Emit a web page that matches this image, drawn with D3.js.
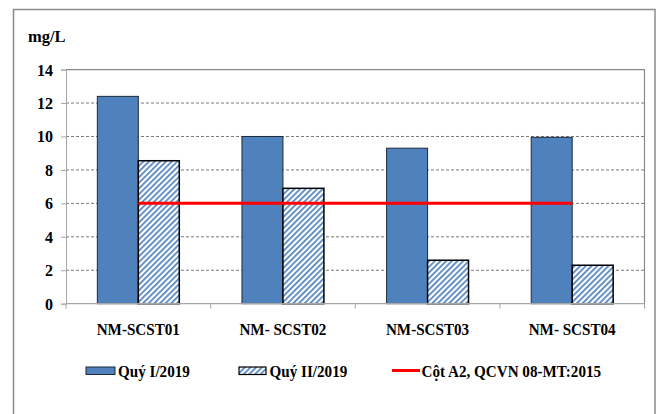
<!DOCTYPE html>
<html>
<head>
<meta charset="utf-8">
<script src="https://cdn.jsdelivr.net/npm/d3@7"></script>
<style>
  html, body { margin: 0; padding: 0; background: #fff; }
  #chart text { font-family: "Liberation Serif", "Times New Roman", Tinos, "DejaVu Serif", serif; font-weight: bold; fill: #000; }
</style>
</head>
<body>
<svg id="chart" width="659" height="414"></svg>
<script>
// Monitoring points
const categories = ["NM-SCST01", "NM- SCST02", "NM-SCST03", "NM- SCST04"];
// Series names
const seriesNames = ["Quý I/2019", "Quý II/2019"];
// Concentrations (mg/L)
const q1Values = [12.4, 10.0, 9.3, 9.95];
const q2Values = [8.55, 6.9, 2.6, 2.3];
// Regulatory limit (column A2)
const limitName = "Cột A2, QCVN 08-MT:2015";
const limitValue = 6;
const yTicks = [0, 2, 4, 6, 8, 10, 12, 14];
const yUnit = "mg/L";

const svg = d3.select("#chart");
const plot = { left: 66, top: 69.6, right: 644.5, bottom: 303.7 };

// Narrow the label glyphs horizontally, keeping their anchor
function condense(sel, k) {
  sel.each(function () {
    const w = this.getComputedTextLength();
    d3.select(this).attr("textLength", w * k).attr("lengthAdjust", "spacingAndGlyphs");
  });
}

// Outer chart frame
svg.append("rect")
  .attr("x", 13.5).attr("y", 9.5)
  .attr("width", 641.5).attr("height", 420)
  .attr("fill", "#fff").attr("stroke", "#8c8c8c").attr("stroke-width", 1.5);

// Hatch pattern for the second quarter
const defs = svg.append("defs");
const pat = defs.append("pattern")
  .attr("id", "hatch")
  .attr("patternUnits", "userSpaceOnUse")
  .attr("width", 4).attr("height", 4)
  .attr("patternTransform", "rotate(45)");
pat.append("rect").attr("width", 4).attr("height", 4).attr("fill", "#fff");
pat.append("rect").attr("x", 0).attr("width", 1.7).attr("height", 4).attr("fill", "#4f81bd");

const x0 = d3.scaleBand().domain(categories).range([plot.left, plot.right]).padding(0);
const x1 = d3.scaleBand().domain(seriesNames).range([0, x0.bandwidth()])
  .paddingInner(0).paddingOuter(0.765);
const y = d3.scaleLinear().domain([0, 14]).range([plot.bottom, plot.top]);

// Gridlines
svg.append("g")
  .selectAll("line")
  .data(yTicks.filter(d => d > 0 && d < 14))
  .join("line")
  .attr("x1", plot.left).attr("x2", plot.right)
  .attr("y1", d => y(d)).attr("y2", d => y(d))
  .attr("stroke", "#7a7a7a").attr("stroke-width", 1)
  .attr("stroke-dasharray", "3,2");

// Plot area border (top/right)
svg.append("path")
  .attr("d", `M${plot.left},${plot.top}H${plot.right}V${plot.bottom}`)
  .attr("fill", "none").attr("stroke", "#8a8a8a").attr("stroke-width", 1.2);

// Y axis
const yAxis = svg.append("g")
  .attr("transform", `translate(${plot.left},0)`)
  .call(d3.axisLeft(y).tickValues(yTicks).tickSize(5).tickPadding(8).tickFormat(d3.format("d")));
yAxis.attr("font-family", null).attr("font-size", null);
yAxis.select(".domain").attr("stroke", "#a6a6a6");
yAxis.selectAll(".tick line").attr("stroke", "#a6a6a6");
yAxis.selectAll(".tick text").style("font-size", "16px").attr("dy", "0.34em");

// Bars
const groups = svg.append("g").selectAll("g")
  .data(categories)
  .join("g")
  .attr("transform", d => `translate(${x0(d)},0)`);

groups.append("rect")
  .attr("x", x1(seriesNames[0]))
  .attr("y", (d, i) => y(q1Values[i]))
  .attr("width", x1.bandwidth())
  .attr("height", (d, i) => y(0) - y(q1Values[i]))
  .attr("fill", "#4f81bd").attr("stroke", "#1c2a3c").attr("stroke-width", 1);

groups.append("rect")
  .attr("x", x1(seriesNames[1]))
  .attr("y", (d, i) => y(q2Values[i]))
  .attr("width", x1.bandwidth())
  .attr("height", (d, i) => y(0) - y(q2Values[i]))
  .attr("fill", "url(#hatch)").attr("stroke", "#000").attr("stroke-width", 1.5);

// X axis
const xAxis = svg.append("g")
  .attr("transform", `translate(0,${plot.bottom})`);
xAxis.append("line")
  .attr("x1", plot.left).attr("x2", plot.right)
  .attr("stroke", "#a6a6a6").attr("stroke-width", 1.2);
xAxis.selectAll("line.tk")
  .data(d3.range(categories.length + 1))
  .join("line").attr("class", "tk")
  .attr("x1", i => plot.left + i * x0.step()).attr("x2", i => plot.left + i * x0.step())
  .attr("y1", 0).attr("y2", 5)
  .attr("stroke", "#a6a6a6");
svg.append("g").selectAll("text")
  .data(categories)
  .join("text")
  .attr("x", d => x0(d) + x0.bandwidth() / 2)
  .attr("y", 334.5)
  .attr("text-anchor", "middle")
  .style("font-size", "17px")
  .text(d => d)
  .call(condense, 0.89);

// Limit line from first to last category centre
svg.append("line")
  .attr("x1", x0(categories[0]) + x0.bandwidth() / 2)
  .attr("x2", x0(categories[categories.length - 1]) + x0.bandwidth() / 2)
  .attr("y1", y(limitValue)).attr("y2", y(limitValue))
  .attr("stroke", "#ff0000").attr("stroke-width", 3);

// Unit label
svg.append("text").attr("x", 28).attr("y", 41.5).style("font-size", "16.5px").text(yUnit);

// Legend
const lg = svg.append("g");
lg.append("rect").attr("x", 86).attr("y", 367).attr("width", 29).attr("height", 7.5)
  .attr("fill", "#4f81bd").attr("stroke", "#1c2a3c").attr("stroke-width", 1);
lg.append("rect").attr("x", 239).attr("y", 367).attr("width", 27).attr("height", 7.5)
  .attr("fill", "url(#hatch)").attr("stroke", "#000").attr("stroke-width", 1.2);
lg.append("line").attr("x1", 392).attr("x2", 420).attr("y1", 370.5).attr("y2", 370.5)
  .attr("stroke", "#ff0000").attr("stroke-width", 3);
lg.selectAll("text.lt")
  .data([[118, seriesNames[0]], [269.5, seriesNames[1]], [421.5, limitName]])
  .join("text").attr("class", "lt")
  .attr("x", d => d[0]).attr("y", 376.5)
  .style("font-size", "17px")
  .text(d => d[1])
  .call(condense, 0.89);
</script>
</body>
</html>
